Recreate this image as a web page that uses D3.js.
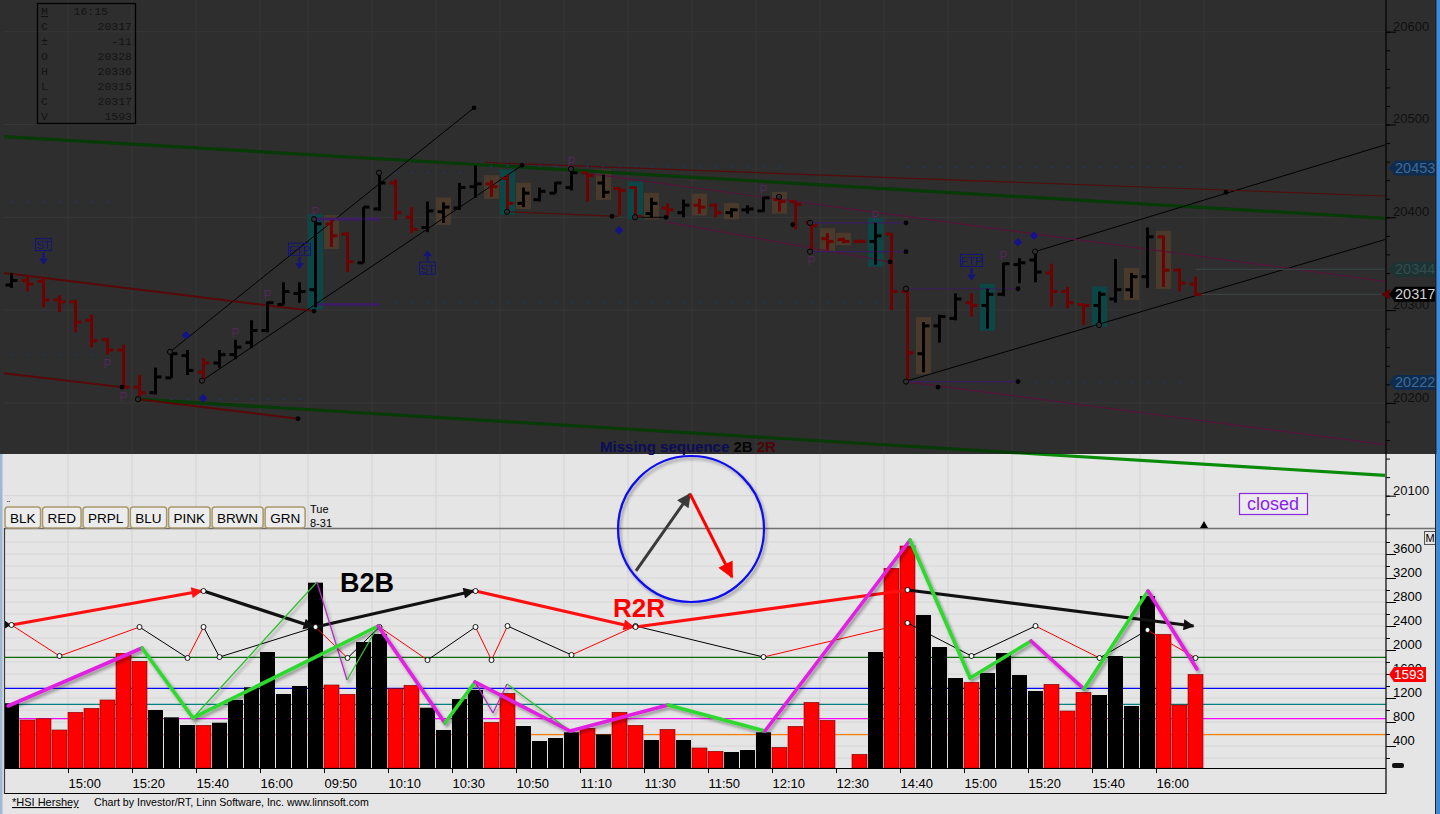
<!DOCTYPE html>
<html><head><meta charset="utf-8">
<script src="https://cdnjs.cloudflare.com/ajax/libs/d3/7.8.5/d3.min.js"></script>
<style>
body{margin:0;background:#e5e5e5;overflow:hidden}
svg{display:block;font-family:"Liberation Sans",Arial,sans-serif}
</style></head><body>
<svg id="c" width="1440" height="814"></svg>
<script>
// ---------------- DATA ----------------
const times = ["14:40","14:45","14:50","14:55","15:00","15:05","15:10","15:15","15:20","15:25","15:30","15:35","15:40","15:45","15:50","15:55","16:00","16:05","16:10",
"09:45","09:50","09:55","10:00","10:05","10:10","10:15","10:20","10:25","10:30","10:35","10:40","10:45","10:50","10:55","11:00","11:05","11:10","11:15","11:20","11:25","11:30","11:35","11:40","11:45","11:50","11:55","12:00","12:05","12:10","12:15","12:20","12:25","12:30",
"14:25","14:30","14:35","14:40","14:45","14:50","14:55","15:00","15:05","15:10","15:15","15:20","15:25","15:30","15:35","15:40","15:45","15:50","15:55","16:00","16:05","16:10"];
const open  = [20327,20332,20331,20311,20309,20289,20268,20257,20217,20211,20227,20251,20233,20243,20252,20265,20278,20306,20318,20322,20393,20382,20351,20409,20437,20400,20389,20406,20410,20433,20436,20442,20415,20419,20426,20432,20448,20437,20431,20432,20404,20410,20405,20413,20413,20405,20408,20407,20419,20417,20394,20377,20376,20374,20374,20382,20320,20253,20283,20291,20308,20305,20317,20349,20354,20340,20320,20306,20305,20312,20322,20336,20379,20343,20328];
const high  = [20340,20336,20335,20316,20311,20295,20270,20263,20230,20238,20254,20257,20248,20257,20268,20289,20309,20330,20330,20398,20397,20384,20411,20448,20441,20411,20417,20416,20437,20456,20440,20446,20432,20432,20438,20452,20448,20446,20432,20433,20421,20415,20419,20420,20415,20410,20413,20422,20422,20417,20395,20383,20378,20376,20394,20383,20323,20287,20295,20318,20318,20323,20351,20356,20363,20350,20325,20307,20320,20355,20340,20389,20380,20345,20336];
const low   = [20324,20320,20303,20298,20276,20260,20252,20216,20206,20209,20227,20230,20225,20238,20247,20259,20276,20306,20308,20303,20368,20341,20351,20407,20397,20383,20384,20394,20408,20421,20422,20405,20411,20417,20426,20429,20417,20421,20402,20400,20400,20400,20400,20404,20400,20400,20404,20406,20406,20387,20363,20365,20372,20373,20349,20300,20222,20233,20265,20289,20293,20280,20315,20329,20330,20304,20302,20284,20284,20308,20313,20324,20325,20320,20315];
const close = [20332,20328,20311,20309,20287,20267,20257,20217,20211,20228,20253,20235,20243,20252,20260,20278,20308,20320,20320,20393,20380,20352,20411,20437,20405,20387,20407,20411,20432,20436,20433,20415,20426,20428,20437,20448,20445,20427,20429,20401,20415,20408,20413,20411,20405,20408,20409,20421,20417,20414,20391,20374,20374,20374,20380,20320,20254,20283,20293,20312,20305,20317,20350,20351,20341,20320,20308,20305,20317,20322,20336,20379,20343,20329,20317];
const volume = [1112,833,855,667,962,1028,1167,1945,1812,1000,878,750,745,788,1167,1378,1967,1267,1400,3122,1417,1262,2133,2267,1355,1412,1038,667,1183,1333,795,1278,733,483,533,628,695,595,962,745,500,678,500,367,312,300,333,628,378,728,1128,828,0,262,1967,3362,3733,2583,2050,1533,1462,1617,1950,1583,1317,1428,983,1295,1250,1900,1067,2900,2262,1083,1593];
const barSide = ["B","R","R","R","R","R","R","R","R","B","B","B","R","B","B","B","B","B","B","B","R","R","B","B","R","R","B","B","B","B","R","R","B","B","B","B","R","B","R","R","B","R","B","R","R","B","B","B","R","R","R","R","R","R","B","R","R","B","B","B","R","B","B","B","B","R","R","R","B","B","B","B","R","R","R"];
const cyanBars = [19,31,39,54,61,68];
const tanBars = [20,27,30,32,37,40,43,45,48,51,52,57,70,72];
const tickSlots = [4,8,12,16,20,24,28,32,36,40,44,48,52,56,60,64,68,72];
const gridSlots = [4,8,12,16,19,23,27,31,35,39,43,47,51,55,59,63,67,71,75];
const priceTicks = [20100,20200,20300,20400,20500,20600];
const volTicks = [400,800,1200,1600,2000,2400,2800,3200,3600];
const pivots = [[6,"below"],[7,"below"],[14,"above"],[16,"above"],[19,"above"],[35,"above"],[47,"above"],[50,"below"],[54,"above"],[62,"above"]];
const signals = [[2,"ST","down"],[18,"FTP","down"],[26,"ST","up"],[60,"FTP","down"]];
const diamonds = [[11.375,20273],[12.44,20205],[38.44,20386],[63.375,20373],[64.375,20380]];
const dotRows = [[0,6,20416],[0,5,20252],[10,18,20204],[24,54,20308],[24,29,20448],[30,48,20455],[56,73,20454],[64,73,20222]];
const priceLines = [
 ["green",[0,20487],[86.31,20399]],
 ["green",[8.375,20204],[86.31,20122]],
 ["redThick",[0,20340],[19.375,20299]],
 ["redThick",[0,20232],[7.375,20217]],
 ["redThick",[8.375,20204],[18.375,20183]],
 ["black",[10.375,20255],[29.375,20518]],
 ["black",[12.375,20224],[32.375,20456]],
 ["black",[64.44,20363],[86.31,20478]],
 ["black",[56.31,20223],[86.31,20376]],
 ["black",[39.31,20400],[41.375,20400]],
 ["red",[30.06,20459],[86.31,20423]],
 ["red",[31.375,20406],[38.375,20401]],
 ["pink",[36.625,20447],[86.31,20331]],
 ["pink",[41.375,20395],[55.375,20352]],
 ["pink",[56.31,20223],[86.31,20155]],
 ["purpleThick",[19.375,20398],[23.5,20398]],
 ["purpleThick",[19.375,20306],[23.5,20306]],
 ["purple",[50.375,20394],[56.375,20394]],
 ["purple",[50.375,20363],[56.375,20363]],
 ["purple",[56.375,20323],[63.375,20323]],
 ["purple",[56.375,20223],[63.375,20223]],
 ["faint",[74.5,20344],[86.31,20344]],
 ["faint",[74.5,20317],[86.31,20317]]
];
const openPts = [[10.375,20255],[12.375,20224],[8.375,20204],[19.375,20398],[23.44,20448],[31.44,20406],[35.44,20452],[39.44,20400],[48.44,20422],[50.375,20394],[50.375,20363],[56.375,20323],[56.375,20223],[64.44,20363],[68.44,20284]];
const dotPts = [[7.375,20217],[18.375,20183],[19.375,20299],[29.375,20518],[32.375,20456],[38,20401],[41.375,20400],[49.3,20392],[56.375,20394],[56.375,20363],[55.375,20352],[63.375,20323],[63.375,20223],[58.375,20217],[76.375,20427]];
const priceTags = [[20453,"blue"],[20344,"teal"],[20222,"blue"],[20317,"last"]];
const infoRows = [["M","16:15"],["C","20317"],["±","-11"],["O","20328"],["H","20336"],["L","20315"],["C","20317"],["V","1593"]];
const volLevels = [[1878,"#0a6a0a"],[1362,"#0000ff"],[1095,"#008080"],[855,"#ff00ff"],[588,"#ff8000"]];
const swingSlots = [0,3,8,11,12,13,19,21,23,26,29,30,31,35,39,47,56,60,64,68,71,74];
const swingVals  = [2417,1900,2383,1867,2383,1883,2383,1867,2383,1833,2383,1833,2400,1917,2400,1883,2450,1900,2400,1867,2333,1867];
const swingSeg   = ["R","R","B","R","B","B","R","B","R","B","R","R","B","R","B","R","B","B","R","B","R"];
const trendSlots = [0,12,19,29,39,56,74];
const trendVals  = [2417,2983,2383,2983,2383,3000,2400];
const trendSeg   = ["R","B","B","R","R","B"];
const trendHead  = [true,true,true,true,false,true];
const zzS = [0.25,8.63,11.81,23.38,27.56,29.44,35.38,41.5,47.56,56.63,60.38,64.19,67.5,71.5,74.56];
const zzV = [1067,2033,867,2400,783,1467,650,1083,650,3833,1533,2150,1350,2983,1683];
const zzSeg = ["M","G","G","M","G","M","M","G","M","G","G","M","G","M"];
const zzThin = [[[11.81,867],[19.56,3133],"G"],[[19.56,3133],[21.44,1500],"M"],[[21.44,1500],[23.38,2400],"G"],[[29.44,1467],[30.56,950],"M"],[[30.56,950],[31.44,1433],"M"],[[31.44,1433],[35.38,650],"G"]];
const buttons = ["BLK","RED","PRPL","BLU","PINK","BRWN","GRN"];

// ---------------- SETUP ----------------
const W = 1440, H = 814, DARK = 454, AX = 1386;
const MONO = "'Liberation Mono','Courier New',monospace";
const SANS = "'Liberation Sans',Arial,sans-serif";
const svg = d3.select("#c");
const xs = d3.scaleLinear().domain([0,75]).range([4,1204]);
const yP = d3.scaleLinear().domain([20600,20100]).range([31.7,495.7]);
const yV = d3.scaleLinear().domain([0,3600]).range([770,554]);
const cx = i => xs(i) + 7.5;
const defs = svg.append("defs");
const fsh = defs.append("filter").attr("id","sh").attr("x","-30%").attr("y","-30%").attr("width","160%").attr("height","160%");
fsh.append("feDropShadow").attr("dx",2).attr("dy",2.5).attr("stdDeviation",1.6).attr("flood-color","#000").attr("flood-opacity",0.35);
defs.append("clipPath").attr("id","cDark").append("rect").attr("x",0).attr("y",0).attr("width",AX).attr("height",DARK);
defs.append("clipPath").attr("id","cLight").append("rect").attr("x",0).attr("y",DARK).attr("width",AX).attr("height",528-DARK);
function mk(id,color,len,wid){
  defs.append("marker").attr("id",id).attr("viewBox","0 0 10 10").attr("refX",9).attr("refY",5)
   .attr("markerWidth",len).attr("markerHeight",wid).attr("markerUnits","userSpaceOnUse").attr("orient","auto")
   .append("path").attr("d","M0,0L10,5L0,10z").attr("fill",color);
}
mk("aR","#ff1010",15,11); mk("aB","#111",15,11); mk("aC","#3a3a3a",16,14); mk("aCR","#ff0000",18,16);

// backgrounds
svg.append("rect").attr("width",W).attr("height",H).attr("fill","#e5e5e5");
svg.append("rect").attr("width",W).attr("height",DARK).attr("fill","#2e2e2e");

// grid
const g0 = svg.append("g");
gridSlots.forEach(s=>{
  g0.append("line").attr("x1",xs(s)).attr("x2",xs(s)).attr("y1",0).attr("y2",DARK).attr("stroke","#373737");
  g0.append("line").attr("x1",xs(s)).attr("x2",xs(s)).attr("y1",DARK).attr("y2",768).attr("stroke","#d3d3d3");
});
priceTicks.forEach(p=>{
  const y=yP(p);
  g0.append("line").attr("x1",4).attr("x2",AX).attr("y1",y).attr("y2",y).attr("stroke", y<DARK?"#373737":"#d3d3d3");
});
d3.range(200,3900,200).forEach(v=>{
  g0.append("line").attr("x1",4).attr("x2",AX).attr("y1",yV(v)).attr("y2",yV(v)).attr("stroke","#d6d6d6");
});

// ---------------- PRICE PANEL ----------------
const gp = svg.append("g");
cyanBars.forEach(i=>gp.append("rect").attr("x",xs(i)).attr("width",15).attr("y",yP(high[i])-5).attr("height",yP(low[i])-yP(high[i])+7).attr("fill","#0b4747"));
tanBars.forEach(i=>gp.append("rect").attr("x",xs(i)).attr("width",15).attr("y",yP(high[i])-5).attr("height",yP(low[i])-yP(high[i])+7).attr("fill","#4a3a2b"));

const lineStyle = {
  green:{c:"#063a06",w:3.2}, redThick:{c:"#5a0707",w:2}, black:{c:"#000",w:1}, red:{c:"#560a0a",w:1.1},
  pink:{c:"#58133a",w:1.2}, purpleThick:{c:"#3d1b66",w:2.6}, purple:{c:"#3a1c62",w:1.2}, faint:{c:"#3b4848",w:1}
};
priceLines.forEach(([k,a,b])=>{
  const st=lineStyle[k];
  const add=(clip,col)=>gp.append("line").attr("x1",xs(a[0])).attr("y1",yP(a[1])).attr("x2",xs(b[0])).attr("y2",yP(b[1]))
     .attr("stroke",col).attr("stroke-width",st.w).attr("clip-path",clip);
  if(k==="green"){ add("url(#cDark)",st.c); add("url(#cLight)","#0a8c0a"); }
  else add("url(#cDark)",st.c);
});
dotRows.forEach(([a,b,p])=>{ for(let i=a;i<=b;i++) gp.append("rect").attr("x",cx(i)-0.8).attr("y",yP(p)-0.8).attr("width",1.6).attr("height",1.6).attr("fill","#1d3a78"); });

for(let i=0;i<open.length;i++){
  const col = barSide[i]==="R" ? "#6c0303" : "#000";
  const c=cx(i), yh=yP(high[i]), yl=yP(low[i]);
  gp.append("rect").attr("x",c-1.5).attr("width",3).attr("y",yh).attr("height",Math.max(2,yl-yh)).attr("fill",col);
  gp.append("rect").attr("x",c-6).attr("width",6).attr("y",yP(open[i])-1.5).attr("height",3).attr("fill",col);
  gp.append("rect").attr("x",c).attr("width",6).attr("y",yP(close[i])-1.5).attr("height",3).attr("fill",col);
}
openPts.forEach(([s,p])=>gp.append("circle").attr("cx",xs(s)).attr("cy",yP(p)).attr("r",2.6).attr("fill","#2e2e2e").attr("stroke","#000").attr("stroke-width",1));
dotPts.forEach(([s,p])=>gp.append("circle").attr("cx",xs(s)).attr("cy",yP(p)).attr("r",2.4).attr("fill","#000"));
diamonds.forEach(([s,p])=>gp.append("rect").attr("x",-3).attr("y",-3).attr("width",6).attr("height",6).attr("fill","#13138c")
   .attr("transform",`translate(${xs(s)},${yP(p)}) rotate(45)`));
pivots.forEach(([i,pos])=>gp.append("text").attr("x",cx(i)).attr("y",pos==="above"?yP(high[i])-3:yP(low[i])+13)
   .attr("text-anchor","middle").attr("font-size",12).attr("fill","#4e2a55").text("P"));
signals.forEach(([i,lab,dir])=>{
  const c=cx(i), blue="#14147a", w = lab==="ST"?16:22;
  let boxY, a0, a1;
  if(dir==="down"){ boxY=yP(high[i])-39; a0=boxY+14; a1=boxY+26; }
  else { a0=yP(low[i])+30; a1=yP(low[i])+18; boxY=a0; }
  gp.append("rect").attr("x",c-w/2).attr("y",boxY).attr("width",w).attr("height",12).attr("fill","none").attr("stroke",blue).attr("stroke-width",1);
  gp.append("text").attr("x",c).attr("y",boxY+10.5).attr("text-anchor","middle").attr("font-size",11.5).attr("fill",blue).text(lab);
  const tip=a1, base = dir==="down"? a1-6 : a1+6;
  gp.append("line").attr("x1",c).attr("x2",c).attr("y1",dir==="down"?a0:a0-1).attr("y2",base).attr("stroke",blue).attr("stroke-width",2.2);
  gp.append("path").attr("d",`M${c-4.5},${base}L${c+4.5},${base}L${c},${tip}z`).attr("fill",blue);
});
// info box
const ib = gp.append("g");
ib.append("rect").attr("x",37.5).attr("y",3.5).attr("width",98).attr("height",120).attr("fill","none").attr("stroke","#000").attr("stroke-width",1.3);
infoRows.forEach(([k,v],j)=>{
  const y=15+j*15;
  ib.append("text").attr("x",41).attr("y",y).style("font-family",MONO).attr("font-size",11.5).attr("fill","#141414")
    .attr("text-decoration", j===0?"underline":null).text(k);
  ib.append("text").attr("x", j===0?108:132).attr("y",y).attr("text-anchor","end").style("font-family",MONO).attr("font-size",11.5).attr("fill","#141414").text(v);
});
const ms = gp.append("text").attr("x",688).attr("y",452).attr("text-anchor","middle").attr("font-size",15).attr("font-weight","bold");
ms.append("tspan").attr("fill","#0c0c58").text("Missing sequence ");
ms.append("tspan").attr("fill","#050505").text("2B ");
ms.append("tspan").attr("fill","#4c0606").text("2R");

// ---------------- VOLUME PANEL ----------------
const gv = svg.append("g");
gv.append("line").attr("x1",4).attr("x2",1435).attr("y1",528.5).attr("y2",528.5).attr("stroke","#707070").attr("stroke-width",1.5);
volLevels.forEach(([v,c])=>gv.append("line").attr("x1",4).attr("x2",AX).attr("y1",yV(v)).attr("y2",yV(v)).attr("stroke",c).attr("stroke-width",1.2));
volume.forEach((v,i)=>{ if(v<=0) return;
  gv.append("rect").attr("x",xs(i)).attr("width",15).attr("y",yV(v)).attr("height",768-yV(v))
    .attr("fill", barSide[i]==="R"?"#ff0000":"#000").attr("stroke",barSide[i]==="R"?"#700":"none").attr("stroke-width",0.6);
});
for(let k=0;k<swingSeg.length;k++){
  gv.append("line").attr("x1",cx(swingSlots[k])).attr("y1",yV(swingVals[k])).attr("x2",cx(swingSlots[k+1])).attr("y2",yV(swingVals[k+1]))
    .attr("stroke",swingSeg[k]==="R"?"#ff0000":"#000").attr("stroke-width",1);
}
for(let k=0;k<trendSeg.length;k++){
  const r = trendSeg[k]==="R";
  const ln = gv.append("line").attr("x1",cx(trendSlots[k])).attr("y1",yV(trendVals[k])).attr("x2",cx(trendSlots[k+1])-(trendHead[k]?2:0)).attr("y2",yV(trendVals[k+1]))
    .attr("stroke",r?"#ff1010":"#111").attr("stroke-width",3.2);
  if(trendHead[k]) ln.attr("marker-end",`url(#${r?"aR":"aB"})`);
}
gv.append("path").attr("d",`M${xs(0)},${yV(2417)-5}L${xs(0)+7},${yV(2417)}L${xs(0)},${yV(2417)+4}z`).attr("fill","#111");
swingSlots.forEach((s,k)=>gv.append("circle").attr("cx",cx(s)).attr("cy",yV(swingVals[k])).attr("r",2.5).attr("fill","#fff").attr("stroke","#000").attr("stroke-width",0.9));
trendSlots.slice(1,-1).forEach((s,k)=>gv.append("circle").attr("cx",cx(s)).attr("cy",yV(trendVals[k+1])).attr("r",2.5).attr("fill","#fff").attr("stroke","#000").attr("stroke-width",0.9));
const zc = {M:"#e020e0",G:"#2ed82e"};
zzThin.forEach(([a,b,c])=>gv.append("line").attr("x1",xs(a[0])).attr("y1",yV(a[1])).attr("x2",xs(b[0])).attr("y2",yV(b[1])).attr("stroke",c==="M"?"#b030c0":"#30c030").attr("stroke-width",1.3).attr("filter","url(#sh)"));
const gz = gv.append("g").attr("filter","url(#sh)");
for(let k=0;k<zzSeg.length;k++){
  gz.append("line").attr("x1",xs(zzS[k])).attr("y1",yV(zzV[k])).attr("x2",xs(zzS[k+1])).attr("y2",yV(zzV[k+1]))
    .attr("stroke",zc[zzSeg[k]]).attr("stroke-width",3.6).attr("stroke-linecap","round");
}
const cc=[42.94,4017];
gv.append("circle").attr("cx",xs(cc[0])).attr("cy",yV(cc[1])).attr("r",73).attr("fill","none").attr("stroke","#0a0aee").attr("stroke-width",2.2).attr("filter","url(#sh)");
gv.append("line").attr("x1",xs(39.5)).attr("y1",yV(3317)).attr("x2",xs(42.88)).attr("y2",yV(4600)).attr("stroke","#3a3a3a").attr("stroke-width",3).attr("marker-end","url(#aC)");
gv.append("line").attr("x1",xs(42.88)).attr("y1",yV(4600)).attr("x2",xs(45.5)).attr("y2",yV(3217)).attr("stroke","#ff0000").attr("stroke-width",3).attr("marker-end","url(#aCR)");
gv.append("text").attr("x",xs(21)).attr("y",yV(2967)).attr("font-size",27).attr("font-weight","bold").attr("fill","#000").text("B2B");
gv.append("text").attr("x",xs(38.06)).attr("y",yV(2550)).attr("font-size",26).attr("font-weight","bold").attr("fill","#ff0000").text("R2R");

let bx=5;
buttons.forEach(b=>{
  const g=gv.append("g");
  const t=g.append("text").attr("y",523).attr("font-size",13.5).attr("fill","#000").text(b);
  const w=t.node().getComputedTextLength()+10;
  g.insert("rect","text").attr("x",bx).attr("y",507).attr("width",w).attr("height",21).attr("rx",3).attr("fill","#ececec").attr("stroke","#a8996c").attr("stroke-width",1.5);
  t.attr("x",bx+w/2).attr("text-anchor","middle");
  bx+=w+2;
});
gv.append("text").attr("x",310).attr("y",513).attr("font-size",11).text("Tue");
gv.append("text").attr("x",310).attr("y",527).attr("font-size",11).text("8-31");
gv.append("text").attr("x",7).attr("y",507).attr("font-size",9).text("¨");

gv.append("rect").attr("x",1239.5).attr("y",493.5).attr("width",68).attr("height",21).attr("fill","#ececec").attr("stroke","#8a2be2").attr("stroke-width",1.2);
gv.append("text").attr("x",1273).attr("y",510).attr("text-anchor","middle").attr("font-size",18).attr("fill","#8a1ef0").text("closed");
gv.append("path").attr("d",`M${xs(75)-4},528L${xs(75)+4},528L${xs(75)},521z`).attr("fill","#000");

// ---------------- AXES ----------------
const ga = svg.append("g");
ga.append("line").attr("x1",AX).attr("x2",AX).attr("y1",0).attr("y2",768).attr("stroke","#000").attr("stroke-width",1.2);
const pa = ga.append("g").attr("transform",`translate(${AX},0)`)
  .call(d3.axisRight(yP).tickValues(priceTicks).tickSize(10).tickFormat(d3.format("d")));
pa.select(".domain").remove();
pa.selectAll("line").attr("stroke","#000");
pa.selectAll("text").attr("x",7).attr("dy","-0.12em").attr("font-size",13).style("font-family",SANS).attr("fill","#0e0e0e");
const pm = ga.append("g").attr("transform",`translate(${AX},0)`)
  .call(d3.axisRight(yP).tickValues(d3.range(20080,20620,20)).tickSize(4).tickFormat(""));
pm.select(".domain").remove(); pm.selectAll("line").attr("stroke","#000");
pm.selectAll(".tick").filter(d=>yP(d)>528||yP(d)<0).remove();
const va = ga.append("g").attr("transform",`translate(${AX},0)`)
  .call(d3.axisRight(yV).tickValues(volTicks).tickSize(10).tickFormat(d3.format("d")));
va.select(".domain").remove(); va.selectAll("line").attr("stroke","#000");
va.selectAll("text").attr("x",7).attr("dy","-0.12em").attr("font-size",13).style("font-family",SANS).attr("fill","#000");
const vm = ga.append("g").attr("transform",`translate(${AX},0)`)
  .call(d3.axisRight(yV).tickValues(d3.range(200,4000,200)).tickSize(4).tickFormat(""));
vm.select(".domain").remove(); vm.selectAll("line").attr("stroke","#000");
vm.selectAll(".tick").filter(d=>yV(d)<530).remove();
ga.append("line").attr("x1",4).attr("x2",AX).attr("y1",768.5).attr("y2",768.5).attr("stroke","#000").attr("stroke-width",1.2);
ga.append("line").attr("x1",4).attr("x2",AX).attr("y1",793.5).attr("y2",793.5).attr("stroke","#000").attr("stroke-width",1.2);
ga.append("line").attr("x1",AX).attr("x2",AX).attr("y1",768).attr("y2",794).attr("stroke","#000").attr("stroke-width",1.2);
ga.append("line").attr("x1",4.5).attr("x2",4.5).attr("y1",528).attr("y2",794).attr("stroke","#3a3a3a").attr("stroke-width",1.2);
const xa = ga.append("g").attr("transform","translate(0,768)")
  .call(d3.axisBottom(xs).tickValues(tickSlots).tickSize(5).tickFormat(i=>times[i]));
xa.select(".domain").remove(); xa.selectAll("line").attr("stroke","#000");
xa.selectAll("text").attr("text-anchor","start").attr("x",0).attr("y",11).attr("font-size",13).style("font-family",SANS).attr("fill","#000");

const tagCol = {blue:["#0e2c4e","#3f6a96"],teal:["#1d3333","#324d4d"],last:["#000","#d0d0d0"]};
priceTags.forEach(([v,k])=>{
  const y=yP(v), [bg,fg]=tagCol[k];
  if(k==="last") ga.append("path").attr("d",`M${AX-5},${y}L${AX+4},${y-5}L${AX+4},${y+5}z`).attr("fill","#5c0202");
  ga.append("path").attr("d",`M${AX+3},${y}L${AX+9},${y-7.5}L${AX+50},${y-7.5}L${AX+50},${y+7.5}L${AX+9},${y+7.5}z`).attr("fill",bg);
  ga.append("text").attr("x",AX+9).attr("y",y+5).attr("font-size",14.5).attr("fill",fg).text(v);
});
const yl=yV(volume[volume.length-1]);
ga.append("path").attr("d",`M${AX+3},${yl}L${AX+8},${yl-7.5}L${AX+40},${yl-7.5}L${AX+40},${yl+7.5}L${AX+8},${yl+7.5}z`).attr("fill","#ff0000");
ga.append("text").attr("x",AX+8).attr("y",yl+5).attr("font-size",13.5).attr("fill","#fff").text(volume[volume.length-1]);
ga.append("rect").attr("x",1424.5).attr("y",531.5).attr("width",11).attr("height",13).attr("fill","none").attr("stroke","#555");
ga.append("text").attr("x",1430).attr("y",542).attr("text-anchor","middle").attr("font-size",11).text("M");
ga.append("rect").attr("x",1392).attr("y",763).attr("width",12).attr("height",5).attr("rx",2).attr("fill","#111");

svg.append("text").attr("x",12).attr("y",806).attr("font-size",11).attr("text-decoration","underline").attr("fill","#000").text("*HSI Hershey");
svg.append("text").attr("x",94).attr("y",806).attr("font-size",10.6).attr("fill","#000").text("Chart by Investor/RT, Linn Software, Inc. www.linnsoft.com");

svg.append("rect").attr("x",0).attr("y",DARK).attr("width",2.5).attr("height",H-DARK).attr("fill","#9fb8d6");
svg.append("rect").attr("x",1435).attr("y",0).attr("width",1.5).attr("height",H).attr("fill","#222");
svg.append("rect").attr("x",1436.5).attr("y",0).attr("width",3.5).attr("height",H).attr("fill","#3a8be0");
</script></body></html>
